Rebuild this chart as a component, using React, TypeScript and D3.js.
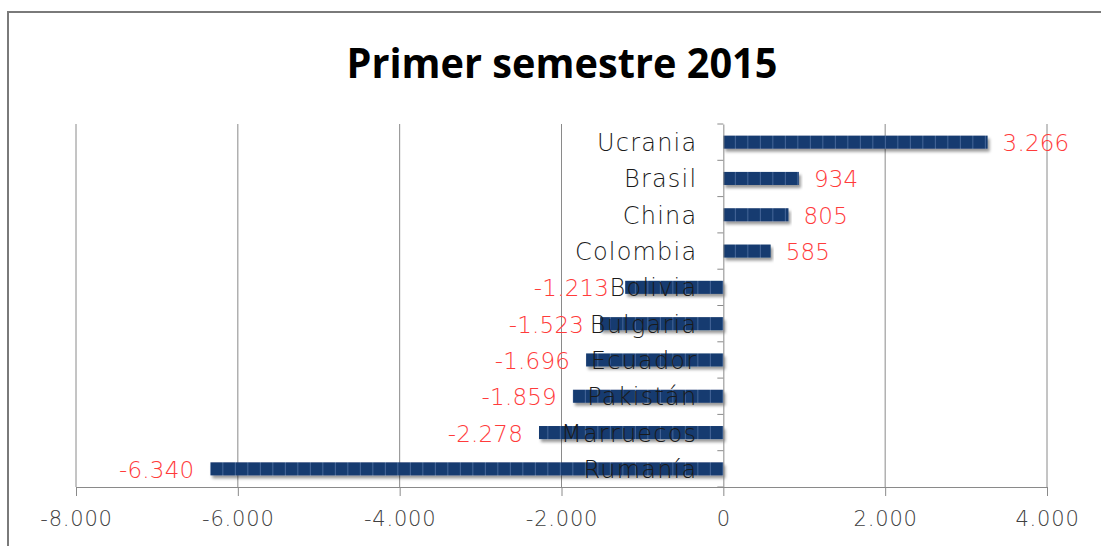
import React, { useEffect, useRef } from 'react';
import * as d3 from 'd3';

// Saldo por país, primer semestre 2015
const countries = ['Ucrania', 'Brasil', 'China', 'Colombia', 'Bolivia', 'Bulgaria', 'Ecuador', 'Pakistán', 'Marruecos', 'Rumanía'];
const values = [3266, 934, 805, 585, -1213, -1523, -1696, -1859, -2278, -6340];
const xTicks = [-8000, -6000, -4000, -2000, 0, 2000, 4000];
const title = 'Primer semestre 2015';

const W = 1101;
const H = 546;
const margin = { top: 124, right: 54, bottom: 59, left: 76 };

const esLocale = d3.formatLocale({ decimal: ',', thousands: '.', grouping: [3], currency: ['', '€'], minus: '-' });
const fmt = esLocale.format(',d');

const labelFont = '"DejaVu Sans", Lato, sans-serif';

const App = () => {
  const ref = useRef<SVGSVGElement>(null);

  useEffect(() => {
    const svg = d3.select(ref.current);
    svg.selectAll('*').remove();

    const data = countries.map((name, i) => ({ name, value: values[i] }));

    const x = d3.scaleLinear()
      .domain([-8000, 4000])
      .range([margin.left, W - margin.right]);

    const y = d3.scaleBand<string>()
      .domain(countries)
      .range([margin.top, H - margin.bottom])
      .paddingInner(0.64)
      .paddingOuter(0.32);

    const defs = svg.append('defs');
    const shadow = defs.append('filter').attr('id', 'shadow')
      .attr('x', '-5%').attr('y', '-50%').attr('width', '110%').attr('height', '250%');
    shadow.append('feDropShadow')
      .attr('dx', 2).attr('dy', 3).attr('stdDeviation', 1.8)
      .attr('flood-color', '#000').attr('flood-opacity', 0.4);

    const pat = defs.append('pattern').attr('id', 'segs')
      .attr('patternUnits', 'userSpaceOnUse')
      .attr('x', x(0)).attr('y', 0)
      .attr('width', 12.5).attr('height', 20);
    pat.append('rect').attr('width', 12.5).attr('height', 20).attr('fill', '#173b6f');
    pat.append('rect').attr('x', 11.5).attr('width', 1).attr('height', 20).attr('fill', '#46679a');

    // marco
    svg.append('rect')
      .attr('x', 8).attr('y', 12)
      .attr('width', W + 10).attr('height', H + 10)
      .attr('fill', '#fff').attr('stroke', '#7a7a7a').attr('stroke-width', 2);

    svg.append('text')
      .attr('x', 562).attr('y', 78)
      .attr('text-anchor', 'middle')
      .attr('font-family', '"Open Sans", "Liberation Sans", sans-serif')
      .attr('font-weight', 700)
      .attr('font-size', 41)
      .attr('textLength', 431)
      .attr('lengthAdjust', 'spacingAndGlyphs')
      .attr('fill', '#000')
      .text(title);

    // rejilla
    svg.append('g')
      .selectAll('line')
      .data(xTicks.filter(d => d !== 0))
      .join('line')
      .attr('x1', d => x(d)).attr('x2', d => x(d))
      .attr('y1', margin.top).attr('y2', H - margin.bottom)
      .attr('stroke', '#8a8a8a').attr('stroke-width', 1);

    // eje X
    const xAxis = d3.axisBottom(x)
      .tickValues(xTicks)
      .tickFormat(d => fmt(d as number))
      .tickSize(9)
      .tickSizeOuter(0)
      .tickPadding(15);
    const gx = svg.append('g')
      .attr('transform', `translate(0, ${H - margin.bottom})`)
      .call(xAxis);
    gx.select('.domain').attr('stroke', '#8a8a8a');
    gx.selectAll('.tick line').attr('stroke', '#8a8a8a');
    gx.selectAll('.tick text')
      .attr('font-family', labelFont)
      .attr('font-weight', 200)
      .attr('font-size', 21)
      .attr('letter-spacing', 0.8)
      .attr('fill', '#404040');

    // barras
    svg.append('g')
      .selectAll('rect')
      .data(data)
      .join('rect')
      .attr('x', d => x(Math.min(0, d.value)))
      .attr('y', d => y(d.name)!)
      .attr('width', d => Math.abs(x(d.value) - x(0)))
      .attr('height', y.bandwidth())
      .attr('fill', 'url(#segs)')
      .attr('filter', 'url(#shadow)');

    // eje de categorías
    const yAxis = d3.axisLeft(y).tickSize(0).tickFormat(() => '');
    const gy = svg.append('g')
      .attr('transform', `translate(${x(0)}, 0)`)
      .call(yAxis);
    gy.select('.domain').attr('stroke', '#8a8a8a');
    const step = y.step();
    gy.selectAll('.cat-tick')
      .data(d3.range(countries.length + 1))
      .join('line')
      .attr('x1', -6).attr('x2', 0)
      .attr('y1', i => margin.top + i * step).attr('y2', i => margin.top + i * step)
      .attr('stroke', '#8a8a8a');

    svg.append('g')
      .selectAll('text')
      .data(data)
      .join('text')
      .attr('x', x(0) - 26)
      .attr('y', d => y(d.name)! + y.bandwidth() / 2 + 9)
      .attr('text-anchor', 'end')
      .attr('font-family', labelFont)
      .attr('font-weight', 200)
      .attr('font-size', 24)
      .attr('letter-spacing', 1.2)
      .attr('fill', '#1a1a1a')
      .text(d => d.name);

    // etiquetas de valor
    svg.append('g')
      .selectAll('text')
      .data(data)
      .join('text')
      .attr('x', d => d.value >= 0 ? x(d.value) + 15 : x(d.value) - 16)
      .attr('y', d => y(d.name)! + y.bandwidth() / 2 + 9)
      .attr('text-anchor', d => d.value >= 0 ? 'start' : 'end')
      .attr('font-family', labelFont)
      .attr('font-weight', 200)
      .attr('font-size', 23)
      .attr('letter-spacing', 0.2)
      .attr('fill', '#ff3b3b')
      .text(d => fmt(d.value));
  });

  return (
    <svg
      ref={ref}
      width={W}
      height={H}
      viewBox={`0 0 ${W} ${H}`}
      style={{ position: 'absolute', left: 0, top: 0, background: '#fff' }}
    />
  );
};

export default App;
